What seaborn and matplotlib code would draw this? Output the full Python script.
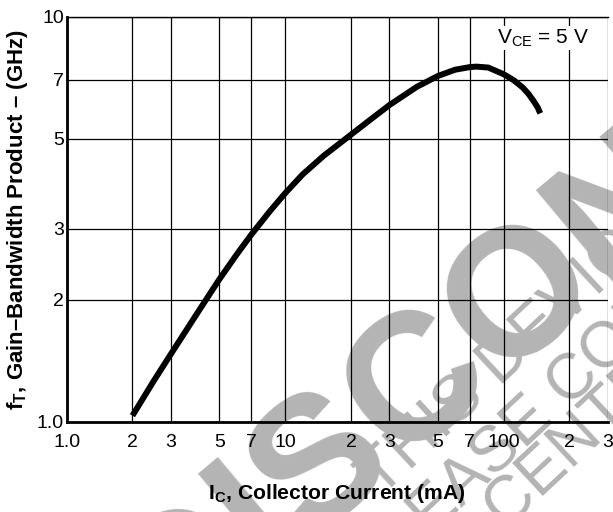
import matplotlib
matplotlib.use("Agg")
import matplotlib.pyplot as plt
import seaborn as sns

# fT vs IC, VCE = 5 V
ic_ma = [2, 2.5, 3, 4, 5, 6, 7, 8.5, 10, 12, 15, 20, 25, 30, 40, 50, 60, 70,
         75, 85, 100, 111, 122, 130, 137, 143, 147]
ft_ghz = [1.035, 1.26, 1.47, 1.87, 2.25, 2.59, 2.9, 3.31, 3.67, 4.08, 4.54, 5.12,
          5.62, 6.06, 6.72, 7.15, 7.41, 7.52, 7.54, 7.5, 7.22, 6.98, 6.7, 6.45,
          6.2, 5.98, 5.78]

x_ticks = [1, 2, 3, 5, 7, 10, 20, 30, 50, 70, 100, 200, 300]
x_labels = ["1.0", "2", "3", "5", "7", "10", "2", "3", "5", "7", "100", "2", "3"]
y_ticks = [1, 2, 3, 5, 7, 10]
y_labels = ["1.0", "2", "3", "5", "7", "10"]

sns.set_theme(style="white")
plt.rcParams["font.family"] = ["Liberation Sans", "DejaVu Sans"]
plt.rcParams["mathtext.fontset"] = "custom"
plt.rcParams["mathtext.rm"] = "Liberation Sans"
plt.rcParams["mathtext.bf"] = "Liberation Sans:bold"

fig = plt.figure(figsize=(6.13, 5.12), dpi=100, facecolor="white")
ax = fig.add_axes([0.1088, 0.1764, 0.883, 0.7904])
ax.patch.set_visible(False)

# watermark, drawn under the axes
gray = "#b4b4b4"
fig.text(0.273, -0.275, "DISCONTINUED", rotation=40, rotation_mode="anchor",
         ha="left", va="baseline", fontsize=130, fontweight="bold",
         color=gray, zorder=-2)
for txt, x0, y0 in [("THIS DEVICE IS DISCONTINUED", 0.6215, 0.0254),
                    ("PLEASE CONTACT YOUR", 0.609, -0.154),
                    ("SALES CENTER", 0.5594, -0.336)]:
    fig.text(x0, y0, txt, rotation=43, rotation_mode="anchor",
             ha="left", va="baseline", fontsize=46, color=gray, zorder=-2)

ax.set_xscale("log")
ax.set_yscale("log")
sns.lineplot(x=ic_ma, y=ft_ghz, ax=ax, color="black", lw=4.3,
             sort=False, estimator=None, solid_capstyle="butt",
             solid_joinstyle="round", zorder=3)

ax.set_xlim(1, 300)
ax.set_ylim(1, 10)
ax.xaxis.set_minor_locator(matplotlib.ticker.NullLocator())
ax.yaxis.set_minor_locator(matplotlib.ticker.NullLocator())
ax.set_xticks(x_ticks)
ax.set_xticklabels(x_labels)
ax.set_yticks(y_ticks)
ax.set_yticklabels(y_labels)
ax.tick_params(axis="both", length=0, labelsize=14, colors="black")
ax.tick_params(axis="x", pad=9)
ax.tick_params(axis="y", pad=2)
ax.grid(True, which="major", color="black", lw=0.9)

for side in ["left", "bottom"]:
    ax.spines[side].set_linewidth(2.0)
    ax.spines[side].set_color("black")
ax.spines["top"].set_linewidth(1.0)
ax.spines["top"].set_color("black")
ax.spines["right"].set_visible(False)

ax.set_xlabel(r"I$_{\mathbf{C}}$, Collector Current (mA)", fontsize=15.2,
              fontweight="bold", color="black", labelpad=22)
ax.set_ylabel(r"f$_{\mathbf{T}}$, Gain–Bandwidth Product – (GHz)", fontsize=16,
              fontweight="bold", color="black", labelpad=5)

ax.text(0.88, 0.948, r"V$_{\mathrm{CE}}$ = 5 V", transform=ax.transAxes,
        ha="center", va="center", fontsize=15, color="black", zorder=4,
        bbox=dict(facecolor="white", edgecolor="none", pad=1))

fig.savefig("out.png", dpi=100, facecolor="white")
